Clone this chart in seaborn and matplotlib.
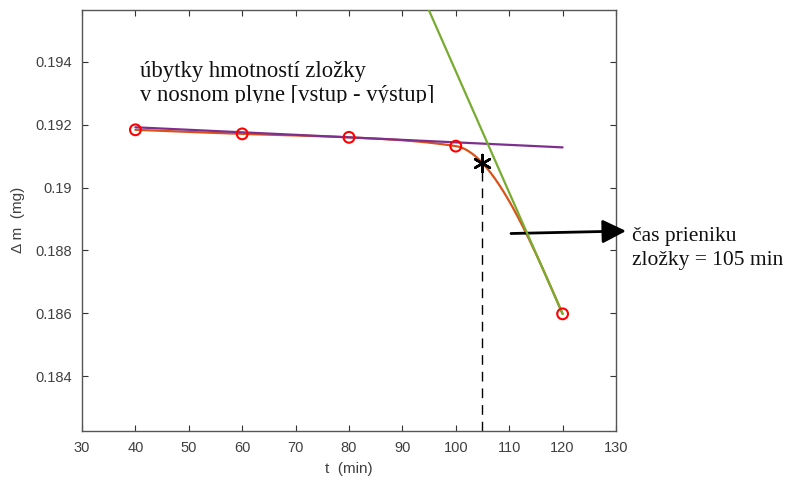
import numpy as np
import pandas as pd
import matplotlib
matplotlib.use("Agg")
import matplotlib.pyplot as plt
from matplotlib.patches import Rectangle
import seaborn as sns

# Measured mass loss of the component in the carrier gas
t_meas = [40, 60, 80, 100, 120]
dm_meas = [0.19184, 0.19171, 0.19160, 0.19132, 0.18598]

# Baseline trend (plateau) and the tangent of the steep drop
base_t = [40, 120]
base_dm = [0.19192, 0.19128]
drop_t = [94, 120]
drop_dm = [0.19602, 0.18598]

# Breakthrough point
t_break = [105]
dm_break = [0.19078]

x_ticks = [30, 40, 50, 60, 70, 80, 90, 100, 110, 120, 130]
y_ticks = [0.184, 0.186, 0.188, 0.190, 0.192, 0.194]
y_tick_labels = ["0.184", "0.186", "0.188", "0.19", "0.192", "0.194"]


def pchip(x, y, xs):
    """Shape-preserving piecewise cubic Hermite interpolation."""
    x = np.asarray(x, float)
    y = np.asarray(y, float)
    h = np.diff(x)
    delta = np.diff(y) / h
    n = len(x)
    d = np.zeros(n)
    for k in range(1, n - 1):
        if delta[k - 1] * delta[k] > 0:
            w1 = 2 * h[k] + h[k - 1]
            w2 = h[k] + 2 * h[k - 1]
            d[k] = (w1 + w2) / (w1 / delta[k - 1] + w2 / delta[k])

    def end_slope(h0, h1, d0, d1):
        s = ((2 * h0 + h1) * d0 - h0 * d1) / (h0 + h1)
        if np.sign(s) != np.sign(d0):
            s = 0.0
        elif np.sign(d0) != np.sign(d1) and abs(s) > abs(3 * d0):
            s = 3 * d0
        return s

    d[0] = end_slope(h[0], h[1], delta[0], delta[1])
    d[-1] = end_slope(h[-1], h[-2], delta[-1], delta[-2])
    idx = np.clip(np.searchsorted(x, xs) - 1, 0, n - 2)
    hk = h[idx]
    s = (xs - x[idx]) / hk
    h00 = 2 * s**3 - 3 * s**2 + 1
    h10 = s**3 - 2 * s**2 + s
    h01 = -2 * s**3 + 3 * s**2
    h11 = s**3 - s**2
    return h00 * y[idx] + h10 * hk * d[idx] + h01 * y[idx + 1] + h11 * hk * d[idx + 1]


t_fine = np.linspace(t_meas[0], t_meas[-1], 400)
fit = pd.DataFrame({"t": t_fine, "dm": pchip(t_meas, dm_meas, t_fine)})
meas = pd.DataFrame({"t": t_meas, "dm": dm_meas})
base = pd.DataFrame({"t": base_t, "dm": base_dm})
drop = pd.DataFrame({"t": drop_t, "dm": drop_dm})
brk = pd.DataFrame({"t": t_break, "dm": dm_break})

sns.set_theme(style="white")
plt.rcParams["font.family"] = ["Liberation Sans", "DejaVu Sans"]

fig = plt.figure(figsize=(7.9, 4.82), dpi=100)
ax = fig.add_axes([82 / 790, 1 - 431 / 482, (616 - 82) / 790, (431 - 9.5) / 482])

sns.lineplot(data=fit, x="t", y="dm", ax=ax, color="#D95319", lw=1.6, zorder=3)
sns.lineplot(data=base, x="t", y="dm", ax=ax, color="#7E2F8E", lw=1.6, zorder=4)
sns.lineplot(data=drop, x="t", y="dm", ax=ax, color="#77AC30", lw=1.6, zorder=4)
sns.scatterplot(data=meas, x="t", y="dm", ax=ax, marker="o", s=60,
                facecolor="none", edgecolor="#FF0000", linewidth=1.5, zorder=5)
sns.scatterplot(data=brk, x="t", y="dm", ax=ax, marker=(6, 2, 0), s=150,
                color="black", linewidth=1.8, zorder=6)
ax.vlines(t_break, 0.18225, dm_break[0] - 0.00022, colors="black",
          linestyles=(0, (7, 5)), lw=1.0, zorder=2)

ax.set_xlim(30, 130)
ax.set_ylim(0.18225, 0.19567)
ax.set_xticks(x_ticks)
ax.set_xticklabels([str(v) for v in x_ticks])
ax.set_yticks(y_ticks)
ax.set_yticklabels(y_tick_labels)

tick_col = "#404040"
ax.tick_params(direction="in", length=4, width=0.8, colors="#333333",
               labelcolor=tick_col, labelsize=10.5, top=True, right=True,
               bottom=True, left=True, pad=7)
for sp in ax.spines.values():
    sp.set_color("#555555")
    sp.set_linewidth(1.0)

ax.set_xlabel("t  (min)", fontsize=11, color=tick_col, labelpad=5)
ax.set_ylabel("\u0394 m  (mg)", fontsize=11, color=tick_col, labelpad=8)

serif = ["Liberation Serif", "DejaVu Serif"]
note = fig.text(140 / 790, 1 - 101 / 482,
                "úbytky hmotností zložky\nv nosnom plyne [vstup - výstup]",
                family=serif, fontsize=16.3, color="#111111", ha="left",
                va="baseline", linespacing=1.2)
note.set_clip_path(Rectangle((0, 1 - 103.3 / 482), 1, 103.3 / 482,
                             transform=fig.transFigure))

ax.annotate("", xy=(626 / 790, 1 - 231 / 482), xytext=(511 / 790, 1 - 233.5 / 482),
            xycoords="figure fraction", textcoords="figure fraction",
            arrowprops=dict(arrowstyle="-|>,head_length=0.9,head_width=0.45",
                            mutation_scale=16, lw=2, color="black",
                            shrinkA=0, shrinkB=0),
            annotation_clip=False)
fig.text(632 / 790, 1 - 265 / 482, "čas prieniku\nzložky = 105 min",
         family=serif, fontsize=15.5, color="#111111", ha="left",
         va="baseline", linespacing=1.38)

fig.savefig("out.png", dpi=100, facecolor="white")
